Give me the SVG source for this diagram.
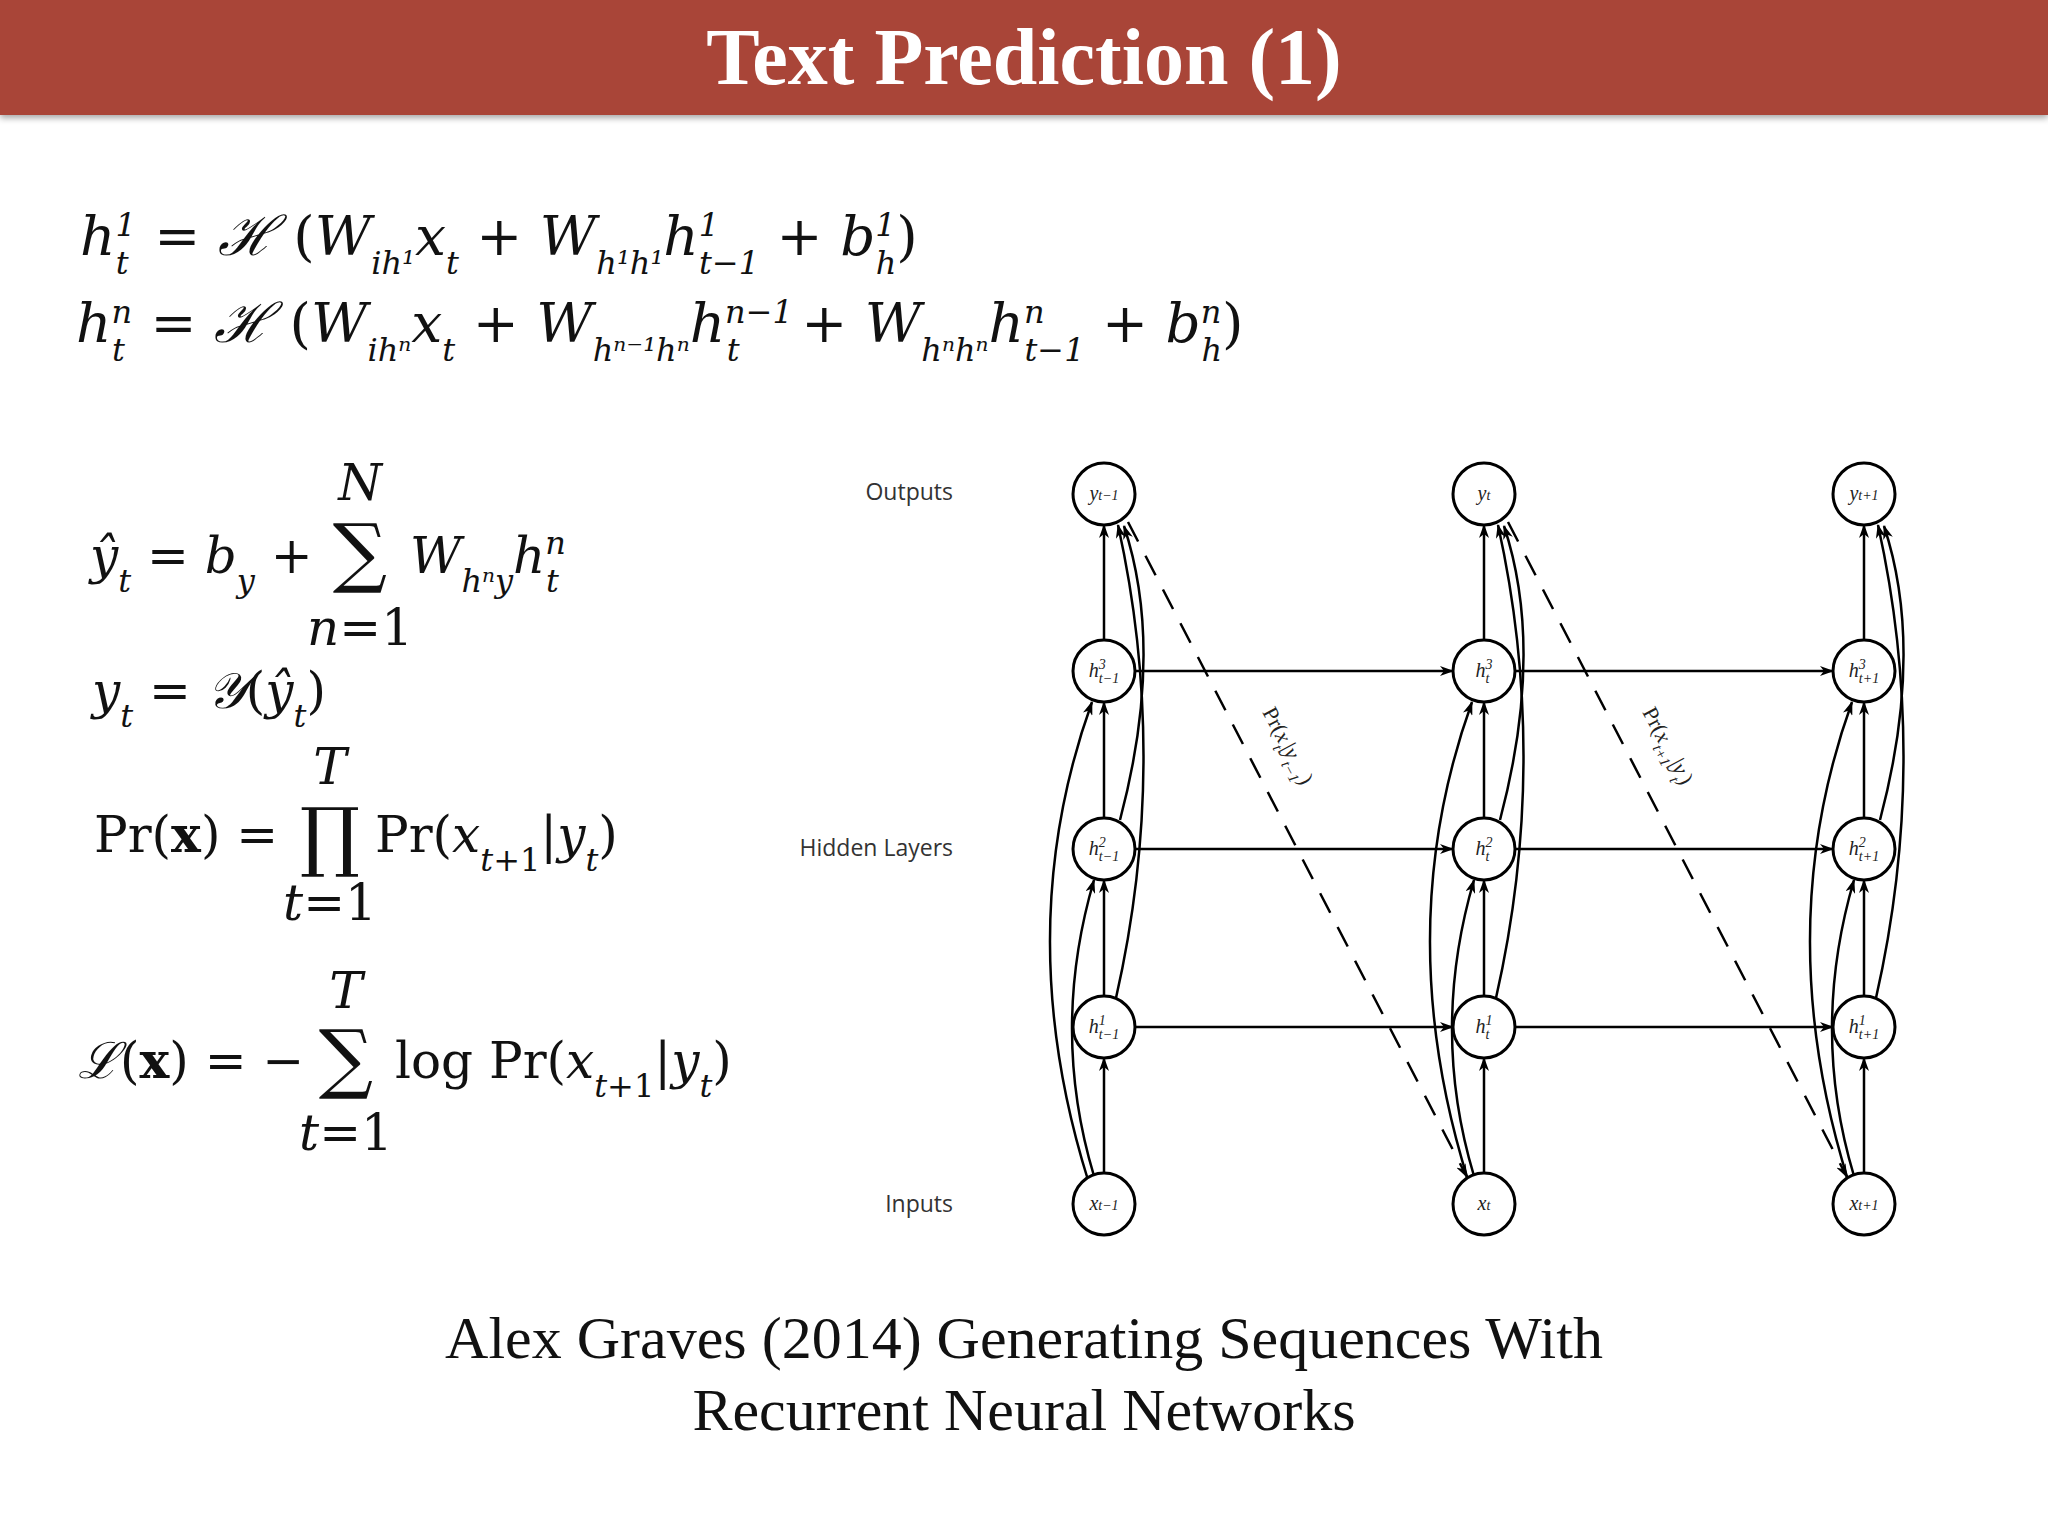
<svg xmlns="http://www.w3.org/2000/svg" width="2048" height="1536" viewBox="0 0 2048 1536">
<defs>
<marker id="ah" markerWidth="14" markerHeight="10" refX="13" refY="5" orient="auto" markerUnits="userSpaceOnUse"><path d="M0,0 L14,5 L0,10 L4,5 Z" fill="#000"/></marker>
<filter id="sh"><feDropShadow dx="0" dy="3" stdDeviation="3" flood-opacity="0.35"/></filter>
</defs>
<style>
.m{font-family:"DejaVu Serif","Liberation Serif",serif;font-style:italic;font-size:50px;fill:#111}
.w{font-size:55px}
.r{font-style:normal}
.s{font-size:32px}
.big{font-family:"DejaVu Serif",serif;font-style:normal;font-size:76px;fill:#111;text-anchor:middle}
.lbl{font-family:"Open Sans","DejaVu Sans",sans-serif;font-size:23px;fill:#333;text-anchor:end}
.node circle{fill:#fff;stroke:#000;stroke-width:3}
.node text{font-family:"Liberation Serif",serif;font-style:italic;font-size:20px;text-anchor:middle;fill:#222}
.e line,.e path{stroke:#000;stroke-width:2.5;fill:none;marker-end:url(#ah)}
.e .d{stroke-dasharray:22 16}
.dl{font-family:"Liberation Serif",serif;font-size:22px;fill:#222}
</style>
<rect width="2048" height="1536" fill="#fff"/>
<rect x="0" y="0" width="2048" height="115" fill="#a94437" filter="url(#sh)"/>
<text x="1024" y="84" text-anchor="middle" font-family="Liberation Serif,serif" font-weight="bold" font-size="80" fill="#fff">Text Prediction (1)</text>

<g id="equations">
<text class="m w" x="80" y="255">h<tspan class="s" baseline-shift="super">1</tspan><tspan class="s" dx="-20" baseline-shift="sub">t</tspan><tspan class="r" dx="8"> = </tspan>ℋ<tspan class="r"> (</tspan>W<tspan class="s" baseline-shift="sub">ih¹</tspan>x<tspan class="s" baseline-shift="sub">t</tspan><tspan class="r"> + </tspan>W<tspan class="s" baseline-shift="sub">h¹h¹</tspan>h<tspan class="s" baseline-shift="super">1</tspan><tspan class="s" dx="-20" baseline-shift="sub">t−1</tspan><tspan class="r"> + </tspan>b<tspan class="s" baseline-shift="super">1</tspan><tspan class="s" dx="-20" baseline-shift="sub">h</tspan><tspan class="r">)</tspan></text>
<text class="m w" x="76" y="342">h<tspan class="s" baseline-shift="super">n</tspan><tspan class="s" dx="-20" baseline-shift="sub">t</tspan><tspan class="r" dx="8"> = </tspan>ℋ<tspan class="r"> (</tspan>W<tspan class="s" baseline-shift="sub">ihⁿ</tspan>x<tspan class="s" baseline-shift="sub">t</tspan><tspan class="r"> + </tspan>W<tspan class="s" baseline-shift="sub">hⁿ⁻¹hⁿ</tspan>h<tspan class="s" baseline-shift="super">n−1</tspan><tspan class="s" dx="-66" baseline-shift="sub">t</tspan><tspan dx="44" class="r"> + </tspan>W<tspan class="s" baseline-shift="sub">hⁿhⁿ</tspan>h<tspan class="s" baseline-shift="super">n</tspan><tspan class="s" dx="-20" baseline-shift="sub">t−1</tspan><tspan class="r"> + </tspan>b<tspan class="s" baseline-shift="super">n</tspan><tspan class="s" dx="-20" baseline-shift="sub">h</tspan><tspan class="r">)</tspan></text>

<text class="m" x="90" y="573">ŷ<tspan class="s" baseline-shift="sub">t</tspan><tspan class="r"> = </tspan>b<tspan class="s" baseline-shift="sub">y</tspan><tspan class="r"> +</tspan></text>
<text class="big" x="360" y="578">∑</text>
<text class="m" x="360" y="500" font-size="36" text-anchor="middle">N</text>
<text class="m" x="360" y="645" font-size="32" text-anchor="middle">n<tspan class="r">=1</tspan></text>
<text class="m" x="410" y="573">W<tspan class="s" baseline-shift="sub">hⁿy</tspan>h<tspan class="s" baseline-shift="super">n</tspan><tspan class="s" dx="-20" baseline-shift="sub">t</tspan></text>

<text class="m" x="92" y="708">y<tspan class="s" baseline-shift="sub">t</tspan><tspan class="r"> = </tspan>𝒴<tspan class="r">(</tspan>ŷ<tspan class="s" baseline-shift="sub">t</tspan><tspan class="r">)</tspan></text>

<text class="m" x="94" y="852"><tspan class="r">Pr(</tspan><tspan class="r" font-weight="bold">x</tspan><tspan class="r">) =</tspan></text>
<text class="big" x="330" y="862">∏</text>
<text class="m" x="330" y="784" font-size="36" text-anchor="middle">T</text>
<text class="m" x="330" y="920" font-size="32" text-anchor="middle">t<tspan class="r">=1</tspan></text>
<text class="m" x="375" y="852"><tspan class="r">Pr(</tspan>x<tspan class="s" baseline-shift="sub">t<tspan class="r">+1</tspan></tspan><tspan class="r">|</tspan>y<tspan class="s" baseline-shift="sub">t</tspan><tspan class="r">)</tspan></text>

<text class="m" x="78" y="1078">ℒ<tspan class="r">(</tspan><tspan class="r" font-weight="bold">x</tspan><tspan class="r">) = −</tspan></text>
<text class="big" x="346" y="1084">∑</text>
<text class="m" x="346" y="1008" font-size="36" text-anchor="middle">T</text>
<text class="m" x="346" y="1150" font-size="32" text-anchor="middle">t<tspan class="r">=1</tspan></text>
<text class="m" x="395" y="1078"><tspan class="r">log Pr(</tspan>x<tspan class="s" baseline-shift="sub">t<tspan class="r">+1</tspan></tspan><tspan class="r">|</tspan>y<tspan class="s" baseline-shift="sub">t</tspan><tspan class="r">)</tspan></text>
</g>

<text class="lbl" x="953" y="500">Outputs</text>
<text class="lbl" x="953" y="856">Hidden Layers</text>
<text class="lbl" x="953" y="1212">Inputs</text>

<g id="connectors" class="e">
<line x1="1104" y1="1173" x2="1104" y2="1058"/><line x1="1104" y1="996" x2="1104" y2="880"/><line x1="1104" y1="818" x2="1104" y2="702"/><line x1="1104" y1="640" x2="1104" y2="525"/>
<line x1="1484" y1="1173" x2="1484" y2="1058"/><line x1="1484" y1="996" x2="1484" y2="880"/><line x1="1484" y1="818" x2="1484" y2="702"/><line x1="1484" y1="640" x2="1484" y2="525"/>
<line x1="1864" y1="1173" x2="1864" y2="1058"/><line x1="1864" y1="996" x2="1864" y2="880"/><line x1="1864" y1="818" x2="1864" y2="702"/><line x1="1864" y1="640" x2="1864" y2="525"/>
<line x1="1135" y1="671" x2="1453" y2="671"/><line x1="1515" y1="671" x2="1833" y2="671"/>
<line x1="1135" y1="849" x2="1453" y2="849"/><line x1="1515" y1="849" x2="1833" y2="849"/>
<line x1="1135" y1="1027" x2="1453" y2="1027"/><line x1="1515" y1="1027" x2="1833" y2="1027"/>
<path d="M1094,1176 Q1050,1030 1094,880"/><path d="M1088,1180 Q1010,930 1092,702"/>
<path d="M1116,998 Q1170,760 1118,525"/><path d="M1120,820 Q1165,650 1124,526"/>
<path d="M1474,1176 Q1430,1030 1474,880"/><path d="M1468,1180 Q1390,930 1472,702"/>
<path d="M1496,998 Q1550,760 1498,525"/><path d="M1500,820 Q1545,650 1504,526"/>
<path d="M1854,1176 Q1810,1030 1854,880"/><path d="M1848,1180 Q1770,930 1852,702"/>
<path d="M1876,998 Q1930,760 1878,525"/><path d="M1880,820 Q1925,650 1884,526"/>
<line class="d" x1="1128" y1="522" x2="1467" y2="1177"/>
<line class="d" x1="1508" y1="522" x2="1847" y2="1177"/>
</g>
<text class="dl" transform="translate(1262,712) rotate(62)">Pr(<tspan font-style="italic">x</tspan><tspan font-size="15" font-style="italic" baseline-shift="sub">t</tspan>|<tspan font-style="italic">y</tspan><tspan font-size="15" font-style="italic" baseline-shift="sub">t−1</tspan>)</text>
<text class="dl" transform="translate(1642,712) rotate(62)">Pr(<tspan font-style="italic">x</tspan><tspan font-size="15" font-style="italic" baseline-shift="sub">t+1</tspan>|<tspan font-style="italic">y</tspan><tspan font-size="15" font-style="italic" baseline-shift="sub">t</tspan>)</text>

<g id="y_tm1" class="node"><circle cx="1104" cy="494" r="31"/><text x="1104" y="500">y<tspan font-size="14">t−1</tspan></text></g>
<g id="y_t" class="node"><circle cx="1484" cy="494" r="31"/><text x="1484" y="500">y<tspan font-size="14">t</tspan></text></g>
<g id="y_tp1" class="node"><circle cx="1864" cy="494" r="31"/><text x="1864" y="500">y<tspan font-size="14">t+1</tspan></text></g>
<g id="h3_tm1" class="node"><circle cx="1104" cy="671" r="31"/><text x="1104" y="677">h<tspan font-size="14" dy="-8">3</tspan><tspan font-size="14" dx="-7" dy="14">t−1</tspan></text></g>
<g id="h3_t" class="node"><circle cx="1484" cy="671" r="31"/><text x="1484" y="677">h<tspan font-size="14" dy="-8">3</tspan><tspan font-size="14" dx="-7" dy="14">t</tspan></text></g>
<g id="h3_tp1" class="node"><circle cx="1864" cy="671" r="31"/><text x="1864" y="677">h<tspan font-size="14" dy="-8">3</tspan><tspan font-size="14" dx="-7" dy="14">t+1</tspan></text></g>
<g id="h2_tm1" class="node"><circle cx="1104" cy="849" r="31"/><text x="1104" y="855">h<tspan font-size="14" dy="-8">2</tspan><tspan font-size="14" dx="-7" dy="14">t−1</tspan></text></g>
<g id="h2_t" class="node"><circle cx="1484" cy="849" r="31"/><text x="1484" y="855">h<tspan font-size="14" dy="-8">2</tspan><tspan font-size="14" dx="-7" dy="14">t</tspan></text></g>
<g id="h2_tp1" class="node"><circle cx="1864" cy="849" r="31"/><text x="1864" y="855">h<tspan font-size="14" dy="-8">2</tspan><tspan font-size="14" dx="-7" dy="14">t+1</tspan></text></g>
<g id="h1_tm1" class="node"><circle cx="1104" cy="1027" r="31"/><text x="1104" y="1033">h<tspan font-size="14" dy="-8">1</tspan><tspan font-size="14" dx="-7" dy="14">t−1</tspan></text></g>
<g id="h1_t" class="node"><circle cx="1484" cy="1027" r="31"/><text x="1484" y="1033">h<tspan font-size="14" dy="-8">1</tspan><tspan font-size="14" dx="-7" dy="14">t</tspan></text></g>
<g id="h1_tp1" class="node"><circle cx="1864" cy="1027" r="31"/><text x="1864" y="1033">h<tspan font-size="14" dy="-8">1</tspan><tspan font-size="14" dx="-7" dy="14">t+1</tspan></text></g>
<g id="x_tm1" class="node"><circle cx="1104" cy="1204" r="31"/><text x="1104" y="1210">x<tspan font-size="14">t−1</tspan></text></g>
<g id="x_t" class="node"><circle cx="1484" cy="1204" r="31"/><text x="1484" y="1210">x<tspan font-size="14">t</tspan></text></g>
<g id="x_tp1" class="node"><circle cx="1864" cy="1204" r="31"/><text x="1864" y="1210">x<tspan font-size="14">t+1</tspan></text></g>

<text x="1024" y="1358" text-anchor="middle" font-family="Liberation Serif,serif" font-size="60" fill="#111">Alex Graves (2014) Generating Sequences With</text>
<text x="1024" y="1430" text-anchor="middle" font-family="Liberation Serif,serif" font-size="60" fill="#111">Recurrent Neural Networks</text>
</svg>
